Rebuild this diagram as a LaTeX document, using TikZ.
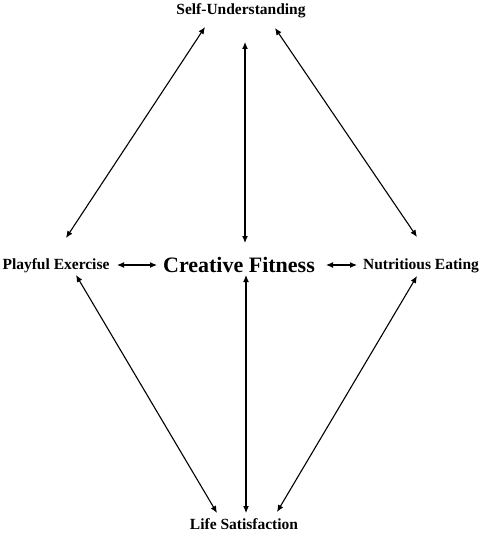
\documentclass[tikz,border=0pt]{standalone}
\usepackage{fontspec}
\setmainfont{Liberation Serif}
\usetikzlibrary{arrows.meta,positioning,calc}

\begin{document}
\begin{tikzpicture}[x=1pt,y=-1pt]
  \tikzstyle{factor}=[inner sep=0pt, font=\bfseries\fontsize{15.5}{18}\selectfont]
  \tikzstyle{core}=[inner sep=0pt, font=\bfseries\fontsize{22}{26}\selectfont]
  \tikzstyle{link}=[{Latex[length=7pt,width=6pt]}-{Latex[length=7pt,width=6pt]}, line width=1.1pt]

  \useasboundingbox (0,0) rectangle (482,534);

  \node[factor] (su) at (241,11) {Self-Understanding};
  \node[core] (cf) at (239,265) {Creative Fitness};
  \node[factor] (pe) at (56,266) {Playful Exercise};
  \node[factor] (ne) at (421,266) {Nutritious Eating};
  \node[factor] (ls) at (244,524) {Life Satisfaction};

  % links from the top
  \draw[link] ([shift={(-36,16)}]su.center) -- ([shift={(10,-28)}]pe.center);
  \draw[link] ([shift={(4,31)}]su.center) -- ([shift={(6,-22)}]cf.center);
  \draw[link] ([shift={(34,17)}]su.center) -- ([shift={(-4,-29)}]ne.center);
  % middle row
  \draw[link] ([shift={(61,-1)}]pe.center) -- ([shift={(-82,0)}]cf.center);
  \draw[link] ([shift={(87,0)}]cf.center) -- ([shift={(-64,-1)}]ne.center);
  % links to the bottom
  \draw[link] ([shift={(20,9)}]pe.center) -- ([shift={(-27,-11)}]ls.center);
  \draw[link] ([shift={(7,10)}]cf.center) -- ([shift={(2,-11)}]ls.center);
  \draw[link] ([shift={(-4,10)}]ne.center) -- ([shift={(33,-12)}]ls.center);
\end{tikzpicture}
\end{document}
